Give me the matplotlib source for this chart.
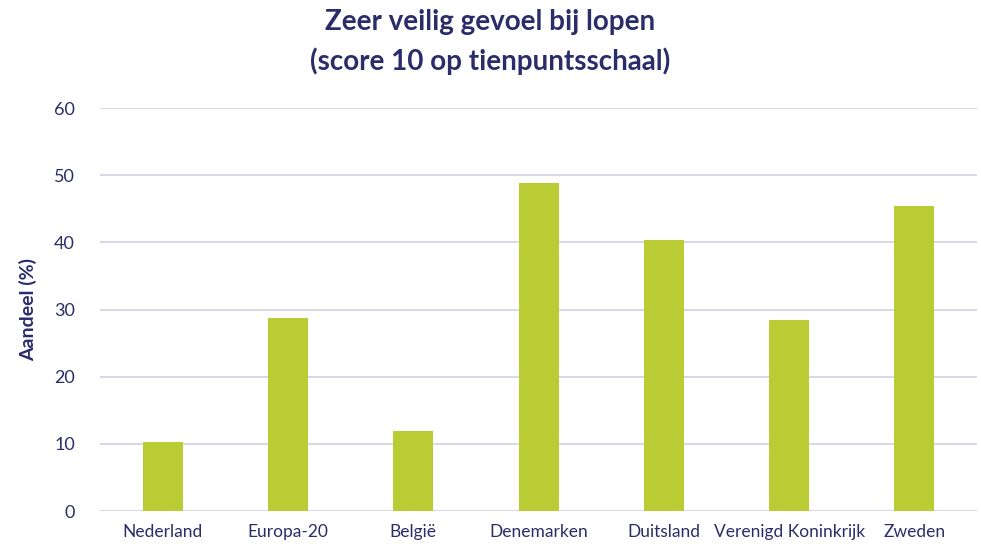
import matplotlib
matplotlib.use('Agg')
from matplotlib import pyplot as plt

countries = ['Nederland', 'Europa-20', 'België', 'Denemarken', 'Duitsland',
             'Verenigd Koninkrijk', 'Zweden']
share = [10.3, 28.7, 11.9, 48.9, 40.4, 28.5, 45.4]
yticks = [0, 10, 20, 30, 40, 50, 60]

navy = '#2B2D6B'
green = '#B9CC33'
grid = '#D9D9E6'

plt.rcParams['font.family'] = ['Lato', 'DejaVu Sans']

fig = plt.figure(figsize=(9.81, 5.46), dpi=100)
ax = fig.add_axes([0.102, 0.064, 0.894, 0.738])

x = list(range(len(countries)))
ax.bar(x, share, width=0.32, color=green, zorder=3)

ax.set_xlim(-0.5, len(countries) - 0.5)
ax.set_ylim(0, 60)
ax.set_yticks(yticks)
ax.set_xticks(x)
ax.set_xticklabels(countries, fontsize=12.5, color=navy)
ax.tick_params(axis='y', labelsize=13, labelcolor=navy, length=0, pad=18)
ax.tick_params(axis='x', length=0, pad=9)
ax.grid(axis='y', color=grid, linewidth=1.5, zorder=0)
for s in ax.spines.values():
    s.set_visible(False)

ax.set_ylabel('Aandeel (%)', fontsize=14, fontweight='bold', color=navy,
              labelpad=12)

fig.suptitle('Zeer veilig gevoel bij lopen\n(score 10 op tienpuntsschaal)',
             x=0.5, y=0.983, fontsize=20, fontweight='bold', color=navy,
             linespacing=1.55)

plt.savefig('out.png', dpi=100)
